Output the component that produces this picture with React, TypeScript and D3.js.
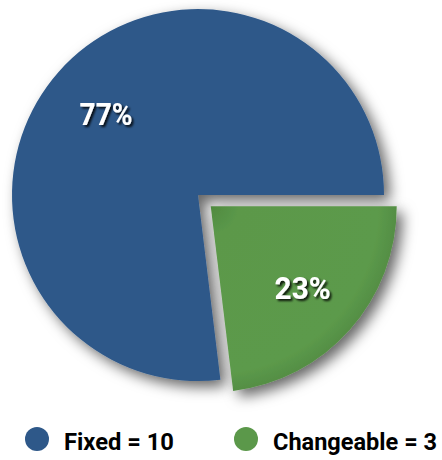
import React from "react";
import * as d3 from "d3";

const categories = ["Fixed", "Changeable"];
const values = [10, 3];
const colors = ["#2E5889", "#5B984A"];

const W = 442;
const H = 460;
const cx = 198;
const cy = 195;
const R = 186;
const explode = [0, 17];
const FONT = "Roboto, 'Liberation Sans', sans-serif";

export default function App() {
  const total = d3.sum(values);
  const arcsRaw = d3.pie<number>().sort(null).value((d) => d)(values);
  const span = arcsRaw.map((a) => a.endAngle - a.startAngle);
  const green = { start: Math.PI / 2, end: Math.PI / 2 + span[1] };
  const blue = { start: green.end, end: green.end + span[0] };
  const slices = [
    { i: 0, ...blue },
    { i: 1, ...green },
  ];
  const arc = d3.arc<any>().innerRadius(0).outerRadius(R);
  const fmt = d3.format(".0%");
  const labelW = [53, 56];
  const legendW = [110, 164];

  return (
    <svg width={W} height={H} style={{ position: "absolute", left: 0, top: 0 }}>
      <defs>
        <filter id="sh" x="-20%" y="-20%" width="150%" height="150%">
          <feDropShadow dx="6" dy="6" stdDeviation="7" floodColor="#000" floodOpacity="0.6" />
        </filter>
        <filter id="tsh" x="-20%" y="-20%" width="150%" height="150%">
          <feDropShadow dx="2" dy="2" stdDeviation="1.2" floodColor="#000" floodOpacity="0.85" />
        </filter>
        <radialGradient id="gg" cx="0" cy="0" r={R} gradientUnits="userSpaceOnUse">
          <stop offset="0" stopColor="#4F8A3F" />
          <stop offset="0.15" stopColor="#5B984A" />
          <stop offset="0.9" stopColor="#5C9A4B" />
          <stop offset="1" stopColor="#548E44" />
        </radialGradient>
      </defs>
      {slices.map((s) => {
        const mid = (s.start + s.end) / 2;
        const ox = Math.sin(mid) * explode[s.i];
        const oy = -Math.cos(mid) * explode[s.i];
        const d = arc({ startAngle: s.start, endAngle: s.end });
        const lr = R * 0.66;
        const lx = Math.sin(mid) * lr;
        const ly = -Math.cos(mid) * lr;
        return (
          <g key={categories[s.i]} transform={`translate(${cx + ox},${cy + oy})`}>
            <path d={d ?? ""} fill={s.i === 1 ? "url(#gg)" : colors[s.i]} filter="url(#sh)" />
            <text
              x={lx - labelW[s.i] / 2}
              y={ly + 11}
              textLength={labelW[s.i]}
              lengthAdjust="spacingAndGlyphs"
              fill="#fff"
              fontFamily={FONT}
              fontWeight="bold"
              fontSize={31}
              filter="url(#tsh)"
            >
              {fmt(values[s.i] / total)}
            </text>
          </g>
        );
      })}
      {categories.map((c, i) => {
        const x0 = [37, 246][i];
        return (
          <g key={c}>
            <circle cx={x0} cy={439} r={12} fill={colors[i]} />
            <text
              x={x0 + 27}
              y={450}
              textLength={legendW[i]}
              lengthAdjust="spacingAndGlyphs"
              fill="#000"
              fontFamily={FONT}
              fontWeight="bold"
              fontSize={24}
            >
              {`${c} = ${values[i]}`}
            </text>
          </g>
        );
      })}
    </svg>
  );
}
